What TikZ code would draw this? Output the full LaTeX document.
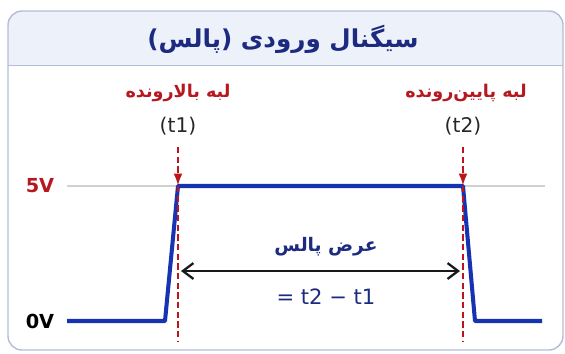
\documentclass[tikz,border=0pt]{standalone}
\usepackage{fontspec}
\setmainfont{DejaVu Sans}
\newfontfamily\farsi[Script=Arabic]{DejaVu Sans}
\TeXXeTstate=1
\usetikzlibrary{arrows.meta}
\definecolor{pulseblue}{HTML}{1633B2}
\definecolor{edgered}{HTML}{B5191F}
\definecolor{inkblue}{HTML}{1C2A80}
\definecolor{framegray}{HTML}{B3BDD5}
\definecolor{titlefill}{HTML}{EDF1FA}
\tikzset{
  farsitext/.style={font=\farsi\fontsize{10.6}{13}\selectfont\bfseries},
  edgelabel/.style={font=\farsi\fontsize{10}{12}\selectfont\bfseries,text=edgered},
  timelabel/.style={font=\fontsize{11.5}{14}\selectfont,text=black!85},
  levellabel/.style={font=\fontsize{11}{13}\selectfont\bfseries},
  marker/.style={edgered!90!red,line width=1.4pt,dash pattern=on 3.6pt off 1.9pt},
}

\begin{document}
\begin{tikzpicture}[x=0.02cm,y=-0.02cm]
  \useasboundingbox (0,0) rectangle (565,353);
  % frame with title bar
  \begin{scope}
    \clip[rounded corners=8] (8,11) rectangle (563,350);
    \fill[titlefill] (8,11) rectangle (563,65);
  \end{scope}
  \draw[framegray] (8,65) -- (563,65);
  \draw[framegray,line width=0.8pt,rounded corners=8] (8,11) rectangle (563,350);
  \node (title) at (283,39) [font=\farsi\fontsize{14}{17}\selectfont\bfseries,text=inkblue]
    {\beginR سیگنال ورودی (پالس)\endR};
  % voltage levels
  \node (v5) at (40,186) [levellabel,text=edgered] {5V};
  \node (v0) at (40,321) [levellabel,text=black] {0V};
  \coordinate (hiL) at (67,186);
  \coordinate (hiR) at (545,186);
  \draw[black!18,line width=1pt] (hiL) -- (hiR);
  % pulse
  \coordinate (lo1) at (67,321);
  \coordinate (r0) at (165,321);
  \coordinate (r1) at (178,186);
  \coordinate (f0) at (463,186);
  \coordinate (f1) at (475,321);
  \coordinate (lo2) at (542,321);
  \draw[pulseblue,line width=2.3pt,line join=round]
    (lo1) -- (r0) -- (r1) -- (f0) -- (f1) -- (lo2);
  % edge markers
  \node (rise) at (178,93) [edgelabel] {\beginR لبه بالارونده\endR};
  \node (fall) at (466,93) [edgelabel] {\beginR لبه پایین‌رونده\endR};
  \node (t1) at (178,126) [timelabel] {(t1)};
  \node (t2) at (463,126) [timelabel] {(t2)};
  \coordinate (mktop) at (0,147);
  \coordinate (mkbot) at (0,341);
  \foreach \e in {1,2}{
    \draw[marker,-{Latex[length=7pt,width=5pt]}] (t\e |- mktop) -- (t\e |- hiL);
    \draw[marker] (t\e |- hiL) -- (t\e |- mkbot);
  }
  % pulse width
  \coordinate (wL) at (181,271);
  \coordinate (wR) at (460,271);
  \draw[black!90,line width=1.3pt,{Straight Barb[length=6pt,width=9pt]}-{Straight Barb[length=6pt,width=9pt]}] (wL) -- (wR);
  \node (pw) at (326,247) [farsitext,text=inkblue] {\beginR عرض پالس\endR};
  \node (pweq) at (326,297) [font=\fontsize{12}{14}\selectfont,text=inkblue] {= t2 − t1};
\end{tikzpicture}
\end{document}
